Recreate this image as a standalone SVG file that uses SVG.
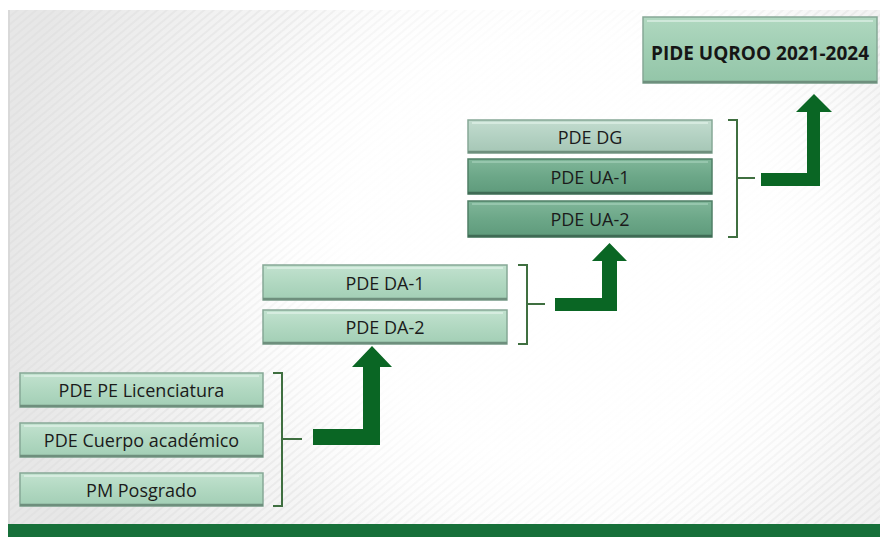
<svg xmlns="http://www.w3.org/2000/svg" width="880" height="537" viewBox="0 0 880 537">
<defs>
<radialGradient id="bg" cx="560" cy="250" r="560" gradientUnits="userSpaceOnUse">
<stop offset="0" stop-color="#ffffff"/>
<stop offset="0.45" stop-color="#fdfdfd"/>
<stop offset="1" stop-color="#e7e7e7"/>
</radialGradient>
<pattern id="stripes" width="6" height="6" patternUnits="userSpaceOnUse" patternTransform="rotate(-40)">
<rect width="6" height="2" fill="#d8d8d8"/>
</pattern>
<linearGradient id="gLight" x1="0" y1="0" x2="0" y2="1">
<stop offset="0" stop-color="#c2e2cf"/>
<stop offset="0.5" stop-color="#b1d8c1"/>
<stop offset="1" stop-color="#a2ceb5"/>
</linearGradient>
<linearGradient id="gTop" x1="0" y1="0" x2="0" y2="1">
<stop offset="0" stop-color="#b0d8c0"/>
<stop offset="0.5" stop-color="#a0ceb3"/>
<stop offset="1" stop-color="#93c5a8"/>
</linearGradient>
<linearGradient id="gGray" x1="0" y1="0" x2="0" y2="1">
<stop offset="0" stop-color="#c3dccf"/>
<stop offset="0.5" stop-color="#b3d1c2"/>
<stop offset="1" stop-color="#a5c6b5"/>
</linearGradient>
<linearGradient id="gDark" x1="0" y1="0" x2="0" y2="1">
<stop offset="0" stop-color="#80b699"/>
<stop offset="0.5" stop-color="#6ca788"/>
<stop offset="1" stop-color="#5e9a7b"/>
</linearGradient>
<radialGradient id="glow" cx="560" cy="250" r="360" gradientUnits="userSpaceOnUse">
<stop offset="0" stop-color="#ffffff" stop-opacity="1"/>
<stop offset="0.6" stop-color="#ffffff" stop-opacity="0.9"/>
<stop offset="1" stop-color="#ffffff" stop-opacity="0"/>
</radialGradient>
</defs>
<style>
.box{stroke:#86a896;stroke-width:1.5}
.hl{stroke:#e6f5ec;stroke-width:1.5;opacity:0.8}
.sh{stroke:#6e8f7d;stroke-width:2.5}
.t{font-family:"Open Sans","Noto Sans",sans-serif;font-size:18px;fill:#1b1b1b;text-anchor:middle}
.tb{font-family:"Open Sans","Noto Sans",sans-serif;font-size:19px;font-weight:bold;fill:#161616;text-anchor:middle}
.arrow{fill:#0a6624}
.brace{fill:none;stroke:#3f6f40;stroke-width:2}
</style>
<rect x="0" y="0" width="880" height="537" fill="#ffffff"/>
<rect x="8" y="10" width="872" height="514" fill="url(#bg)"/>
<rect x="8" y="10" width="872" height="514" fill="url(#stripes)" opacity="0.35"/>
<rect x="8" y="10" width="872" height="514" fill="url(#glow)"/>
<line x1="9" y1="10" x2="9" y2="524" stroke="#d9d9d9" stroke-width="2"/>
<rect x="8" y="524" width="872" height="13" fill="#17703a"/>

<g id="node-pe-licenciatura">
<rect class="box" x="20" y="373" width="243" height="34" fill="url(#gLight)"/>
<line class="hl" x1="24" y1="376" x2="259" y2="376"/>
<line class="sh" x1="20" y1="406" x2="263" y2="406"/>
<text class="t" x="141.5" y="397">PDE PE Licenciatura</text>
</g>
<g id="node-cuerpo-academico">
<rect class="box" x="20" y="423" width="243" height="34" fill="url(#gLight)"/>
<line class="hl" x1="24" y1="426" x2="259" y2="426"/>
<line class="sh" x1="20" y1="456" x2="263" y2="456"/>
<text class="t" x="141.5" y="447">PDE Cuerpo académico</text>
</g>
<g id="node-pm-posgrado">
<rect class="box" x="20" y="473" width="243" height="33" fill="url(#gLight)"/>
<line class="hl" x1="24" y1="476" x2="259" y2="476"/>
<line class="sh" x1="20" y1="505" x2="263" y2="505"/>
<text class="t" x="141.5" y="497">PM Posgrado</text>
</g>

<g id="node-da-1">
<rect class="box" x="263" y="265" width="244" height="35" fill="url(#gLight)"/>
<line class="hl" x1="267" y1="268" x2="503" y2="268"/>
<line class="sh" x1="263" y1="299" x2="507" y2="299"/>
<text class="t" x="385" y="290">PDE DA-1</text>
</g>
<g id="node-da-2">
<rect class="box" x="263" y="310" width="244" height="34" fill="url(#gLight)"/>
<line class="hl" x1="267" y1="313" x2="503" y2="313"/>
<line class="sh" x1="263" y1="343" x2="507" y2="343"/>
<text class="t" x="385" y="334">PDE DA-2</text>
</g>

<g id="node-dg">
<rect class="box" x="468" y="120" width="244" height="33" fill="url(#gGray)"/>
<line class="hl" x1="472" y1="123" x2="708" y2="123"/>
<line class="sh" x1="468" y1="152" x2="712" y2="152"/>
<text class="t" x="590" y="144">PDE DG</text>
</g>
<g id="node-ua-1">
<rect class="box" x="468" y="159" width="244" height="35" fill="url(#gDark)" style="stroke:#4f7f66"/>
<line class="hl" x1="472" y1="162" x2="708" y2="162" style="stroke:#a9d3bd"/>
<line class="sh" x1="468" y1="193" x2="712" y2="193" style="stroke:#3f6b55"/>
<text class="t" x="590" y="184">PDE UA-1</text>
</g>
<g id="node-ua-2">
<rect class="box" x="468" y="201" width="244" height="36" fill="url(#gDark)" style="stroke:#4f7f66"/>
<line class="hl" x1="472" y1="204" x2="708" y2="204" style="stroke:#a9d3bd"/>
<line class="sh" x1="468" y1="236" x2="712" y2="236" style="stroke:#3f6b55"/>
<text class="t" x="590" y="226">PDE UA-2</text>
</g>

<g id="node-pide">
<rect class="box" x="643" y="17" width="234" height="66" fill="url(#gTop)"/>
<line class="hl" x1="647" y1="21" x2="873" y2="21"/>
<line class="sh" x1="643" y1="82" x2="877" y2="82"/>
<text class="tb" x="760" y="60">PIDE UQROO 2021-2024</text>
</g>

<g id="connectors">
<path class="brace" d="M273,373 H282 V506 H273 M282,439 H302"/>
<path class="brace" d="M518,265 H527 V344 H518 M527,304 H545"/>
<path class="brace" d="M728,120 H737 V237 H728 M737,178 H755"/>
<path class="arrow" d="M313,429 H363 V367 H352 L372,346 L392,367 H380 V445 H313 Z"/>
<path class="arrow" d="M555,298 H602 V261 H592 L609.5,243 L627,261 H617 V311 H555 Z"/>
<path class="arrow" d="M761,173 H807 V112 H796 L814,94 L832,112 H820 V186 H761 Z"/>
</g>
</svg>
